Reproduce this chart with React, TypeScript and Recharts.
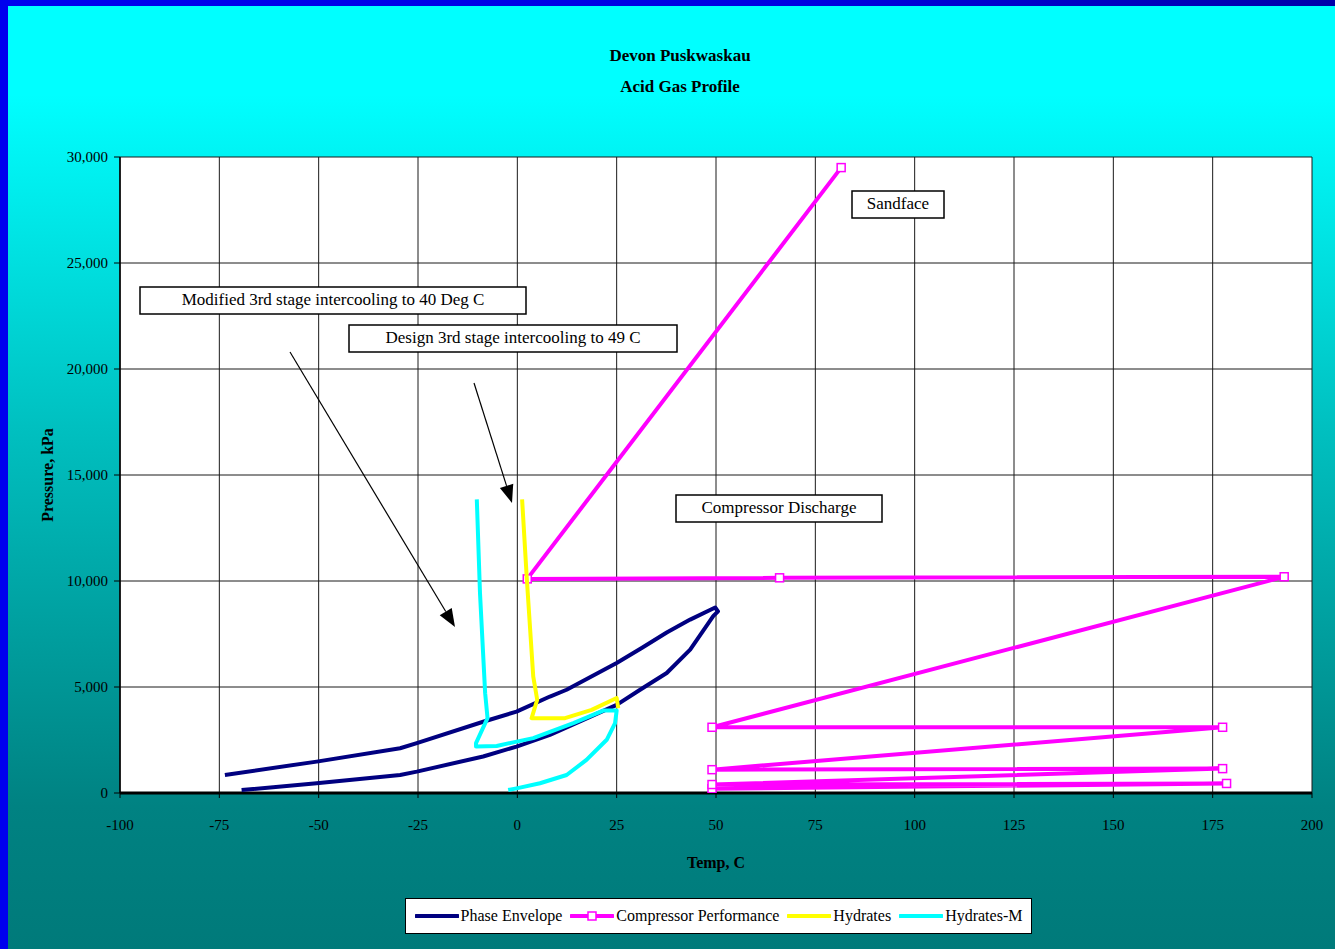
import React from "react";
import {
  ScatterChart,
  Scatter,
  XAxis,
  YAxis,
  CartesianGrid,
  Legend,
} from "recharts";

// ---- data ----
const phaseTemp = [-69.4, -50.5, -29.5, -25.3, -8.6, -0.2, 8.2, 25.0, 30.9, 37.6, 43.5, 49.3, 50.5, 49.8, 43.5, 37.6, 31.3, 25.0, 12.4, 8.2, -0.2, -8.6, -25.3, -29.5, -50.5, -73.6];
const phasePres = [140, 460, 850, 1010, 1720, 2190, 2740, 4160, 4870, 5660, 6760, 8340, 8570, 8750, 8180, 7570, 6840, 6130, 4870, 4550, 3840, 3360, 2350, 2110, 1480, 850];

const compTemp = [49, 178.5, 49, 177.5, 49, 177.5, 49, 193, 66, 2.5, 81.5];
const compPres = [200, 450, 400, 1150, 1100, 3100, 3100, 10200, 10150, 10100, 29500];

const hydTemp = [1.2, 2.4, 4.0, 5.0, 3.6, 12.0, 18.7, 25.0, 25.4];
const hydPres = [13850, 10070, 5500, 4400, 3530, 3530, 3920, 4480, 4000];

const hydMTemp = [-10.2, -9.4, -8.1, -7.5, -10.4, -10.4, -5.2, 4.0, 14.1, 21.6, 25.0, 24.6, 22.5, 17.4, 12.4, 5.7, -0.2, -2.3];
const hydMPres = [13850, 9440, 4710, 3530, 2350, 2190, 2220, 2590, 3300, 3890, 3890, 3300, 2510, 1560, 850, 460, 220, 140];

const xTicks = [-100, -75, -50, -25, 0, 25, 50, 75, 100, 125, 150, 175, 200];
const yTicks = [0, 5000, 10000, 15000, 20000, 25000, 30000];

const seriesNames = ["Phase Envelope", "Compressor Performance", "Hydrates", "Hydrates-M"];
const seriesColors = ["#000080", "#FF00FF", "#FFFF00", "#00FFFF"];

const zip = (xs: number[], ys: number[]) => xs.map((x, i) => ({ x, y: ys[i] }));
const phaseData = zip(phaseTemp, phasePres);
const compData = zip(compTemp, compPres);
const hydData = zip(hydTemp, hydPres);
const hydMData = zip(hydMTemp, hydMPres);

const FONT = "'Liberation Serif', 'Times New Roman', serif";

const NoShape = () => <g />;
const SquareShape = (props: any) => {
  const { cx, cy } = props;
  if (cx == null || cy == null) return <g />;
  return <rect x={cx - 4} y={cy - 4} width={8} height={8} fill="#ffffff" stroke="#FF00FF" strokeWidth={1.5} />;
};

const LegendContent = () => (
  <div
    style={{
      boxSizing: "border-box",
      width: 627,
      height: 36,
      background: "#fff",
      border: "1.5px solid #000",
      display: "flex",
      alignItems: "center",
      justifyContent: "center",
      gap: 8,
      fontFamily: FONT,
      fontSize: 16,
      color: "#000",
    }}
  >
    {seriesNames.map((n, i) => (
      <div key={n} style={{ display: "flex", alignItems: "center" }}>
        <svg width={44} height={12}>
          <line x1={1} y1={6} x2={43} y2={6} stroke={seriesColors[i]} strokeWidth={4} strokeLinecap="round" />
          {i === 1 && <rect x={18} y={2} width={8} height={8} fill="#fff" stroke="#FF00FF" strokeWidth={1.5} />}
        </svg>
        <span style={{ marginLeft: 2 }}>{n}</span>
      </div>
    ))}
  </div>
);

const Arrow = ({ x1, y1, x2, y2 }: { x1: number; y1: number; x2: number; y2: number }) => {
  const ang = Math.atan2(y2 - y1, x2 - x1);
  const len = 18;
  const w = 7;
  const bx = x2 - len * Math.cos(ang);
  const by = y2 - len * Math.sin(ang);
  const px = -Math.sin(ang) * w;
  const py = Math.cos(ang) * w;
  return (
    <g>
      <line x1={x1} y1={y1} x2={bx} y2={by} stroke="#000" strokeWidth={1.2} />
      <polygon points={`${x2},${y2} ${bx + px},${by + py} ${bx - px},${by - py}`} fill="#000" />
    </g>
  );
};

const Box = ({ x, y, w, h, text }: { x: number; y: number; w: number; h: number; text: string }) => (
  <g>
    <rect x={x} y={y} width={w} height={h} fill="#fff" stroke="#000" strokeWidth={1.5} />
    <text x={x + w / 2} y={y + h / 2 + 1} textAnchor="middle" dominantBaseline="middle" fontFamily={FONT} fontSize={17} fill="#000">
      {text}
    </text>
  </g>
);

export default function App() {
  return (
    <div
      style={{
        position: "absolute",
        left: 0,
        top: 0,
        width: 1335,
        height: 949,
        overflow: "hidden",
        background: "linear-gradient(to bottom, #00ffff 0%, #00ffff 10%, #00c0c0 45%, #008282 85%, #007a7a 100%)",
      }}
    >
      <div style={{ position: "absolute", left: 0, top: 0, width: 1335, height: 6, background: "linear-gradient(to right, #0000ee, #0000e0 60%, #0000a8)" }} />
      <div style={{ position: "absolute", left: 0, top: 0, width: 8, height: 949, background: "#0000ee" }} />

      <div style={{ position: "absolute", left: 0, top: 0 }}>
        <ScatterChart width={1335} height={949} margin={{ top: 157, right: 23, bottom: 126, left: 0 }}>
          <CartesianGrid fill="#ffffff" stroke="#1a1a1a" strokeWidth={1} horizontalValues={yTicks} verticalValues={xTicks} />
          <XAxis
            type="number"
            dataKey="x"
            domain={[-100, 200]}
            ticks={xTicks}
            interval={0}
            height={30}
            tickSize={5}
            tickMargin={21}
            axisLine={{ stroke: "#000", strokeWidth: 3 }}
            tickLine={{ stroke: "#000" }}
            tick={{ fill: "#000", fontSize: 15, fontFamily: FONT }}
            allowDataOverflow
            label={{ value: "Temp, C", position: "center", dy: 54, fill: "#000", fontSize: 16, fontWeight: "bold", fontFamily: FONT }}
          />
          <YAxis
            type="number"
            dataKey="y"
            domain={[0, 30000]}
            ticks={yTicks}
            interval={0}
            width={120}
            tickSize={6}
            tickMargin={6}
            axisLine={{ stroke: "#000", strokeWidth: 1.5 }}
            tickLine={{ stroke: "#000" }}
            tick={{ fill: "#000", fontSize: 15, fontFamily: FONT }}
            tickFormatter={(v: number) => v.toLocaleString("en-US")}
            allowDataOverflow
            label={{ value: "Pressure, kPa", angle: -90, position: "center", dx: -13, fill: "#000", fontSize: 16, fontWeight: "bold", fontFamily: FONT }}
          />
          <Scatter
            name={seriesNames[0]}
            data={phaseData}
            fill={seriesColors[0]}
            line={{ stroke: seriesColors[0], strokeWidth: 4, strokeLinejoin: "round" }}
            shape={NoShape}
            isAnimationActive={false}
          />
          <Scatter
            name={seriesNames[1]}
            data={compData}
            fill={seriesColors[1]}
            line={{ stroke: seriesColors[1], strokeWidth: 4, strokeLinejoin: "round" }}
            shape={SquareShape}
            isAnimationActive={false}
          />
          <Scatter
            name={seriesNames[2]}
            data={hydData}
            fill={seriesColors[2]}
            line={{ stroke: seriesColors[2], strokeWidth: 4, strokeLinejoin: "round" }}
            shape={NoShape}
            isAnimationActive={false}
          />
          <Scatter
            name={seriesNames[3]}
            data={hydMData}
            fill={seriesColors[3]}
            line={{ stroke: seriesColors[3], strokeWidth: 4, strokeLinejoin: "round" }}
            shape={NoShape}
            isAnimationActive={false}
          />
          <Legend
            layout="horizontal"
            align="center"
            verticalAlign="middle"
            content={LegendContent}
            wrapperStyle={{ position: "absolute", left: 405, top: 898, width: 627, height: 36 }}
          />
        </ScatterChart>
      </div>

      <div
        style={{
          position: "absolute",
          left: 0,
          top: 40,
          width: 1360,
          textAlign: "center",
          fontFamily: FONT,
          fontWeight: "bold",
          fontSize: 17,
          lineHeight: "31px",
          color: "#000",
        }}
      >
        <div>Devon Puskwaskau</div>
        <div>Acid Gas Profile</div>
      </div>

      <svg style={{ position: "absolute", left: 0, top: 0, pointerEvents: "none" }} width={1335} height={949}>
        <Box x={852} y={191} w={92} h={27} text="Sandface" />
        <Box x={676} y={495} w={206} h={27} text="Compressor Discharge" />
        <Box x={140} y={287} w={386} h={27} text="Modified 3rd stage intercooling to 40 Deg C" />
        <Box x={349} y={325} w={328} h={27} text="Design 3rd stage intercooling to 49 C" />
        <Arrow x1={290} y1={352} x2={455} y2={627} />
        <Arrow x1={474} y1={383} x2={512} y2={503} />
      </svg>
    </div>
  );
}
